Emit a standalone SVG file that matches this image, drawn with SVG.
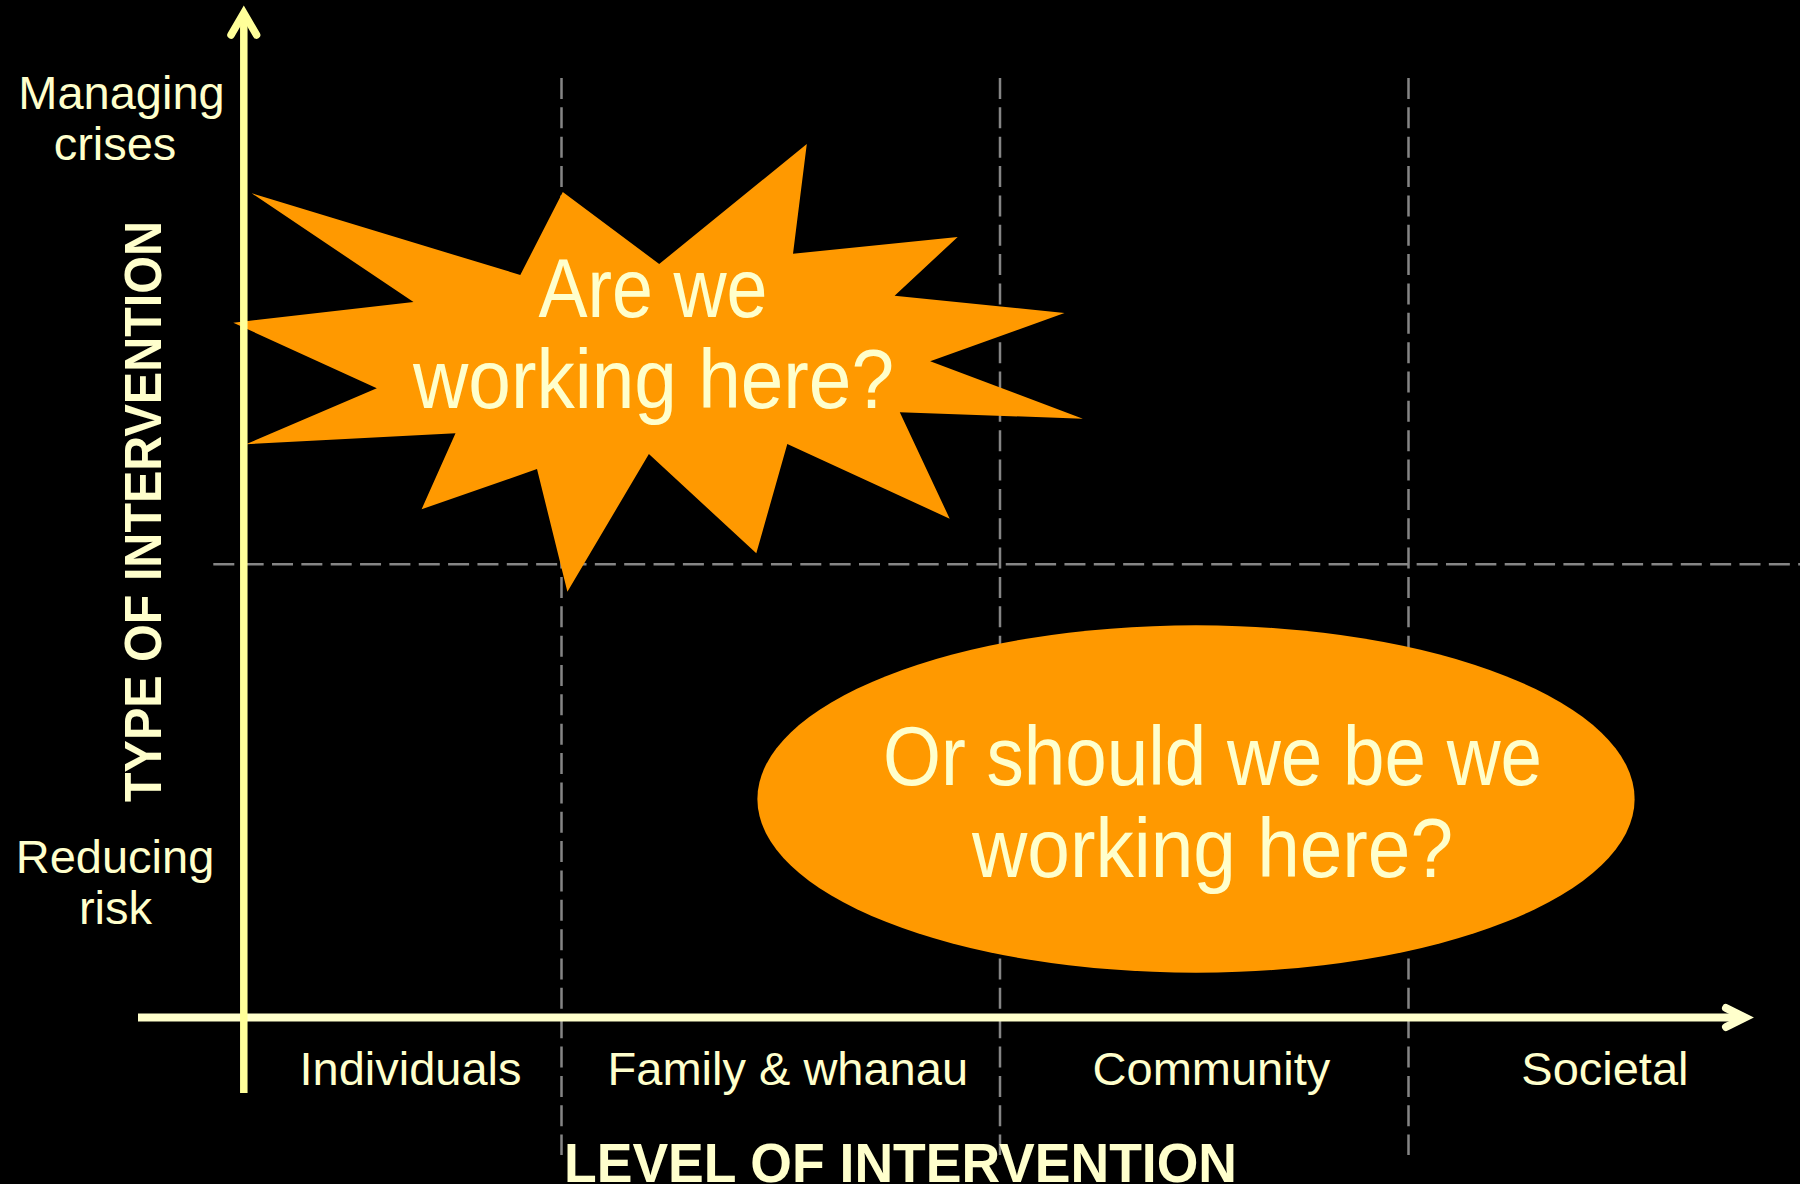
<svg xmlns="http://www.w3.org/2000/svg" width="1800" height="1184" viewBox="0 0 1800 1184">
<style>
.lbl{font-family:"Liberation Sans",Arial,sans-serif;font-size:47px;fill:#FFFFCC}
.big{font-family:"Liberation Sans",Arial,sans-serif;font-size:84px;fill:#FFFFCC}
.ttl{font-family:"Liberation Sans",Arial,sans-serif;font-weight:bold;fill:#FFFFCC}
.grid{stroke:#858585;stroke-width:2.5;stroke-dasharray:21 8.35;fill:none}
.shape{fill:#FF9900}
</style>
<rect x="0" y="0" width="1800" height="1184" fill="#000000"/>
<g id="connectors">
  <line class="grid" x1="561.5" y1="78" x2="561.5" y2="1155"/>
  <line class="grid" x1="1000" y1="78" x2="1000" y2="1155"/>
  <line class="grid" x1="1408.5" y1="78" x2="1408.5" y2="1155"/>
  <line class="grid" x1="213.3" y1="564.3" x2="1800" y2="564.3"/>
</g>
<g id="burst">
  <polygon class="shape" points="251.7,193.3 520.3,275 562.8,192 659.2,264 806.8,144 793,253.7 957.7,237 894.6,295.7 1064.5,313 930.2,361.3 1082.9,418.7 899.8,412.3 949.7,518.7 787.3,444 756.3,553.3 648.9,454 567.4,591.7 537,469 421.6,509.3 455.5,433.3 245.9,444.3 376.8,388.3 233.3,322.7 413.5,302"/>
  <text class="big" x="538.5" y="316.7" textLength="229" lengthAdjust="spacingAndGlyphs">Are we</text>
  <text class="big" x="413" y="408" textLength="481" lengthAdjust="spacingAndGlyphs">working here?</text>
</g>
<g id="ellipse">
  <ellipse class="shape" cx="1196" cy="799" rx="438.6" ry="173.7"/>
  <text class="big" x="883" y="785" textLength="659" lengthAdjust="spacingAndGlyphs">Or should we be we</text>
  <text class="big" x="972" y="876.7" textLength="481" lengthAdjust="spacingAndGlyphs">working here?</text>
</g>
<g id="axes">
  <line x1="138" y1="1017.5" x2="1745" y2="1017.5" stroke="#FFFFCC" stroke-width="8"/>
  <polyline points="1726,1008 1745,1017.5 1726,1027" fill="none" stroke="#FFFFCC" stroke-width="8" stroke-linecap="round" stroke-linejoin="miter"/>
  <line x1="243.8" y1="13" x2="243.8" y2="1093" stroke="#FFFF99" stroke-width="7.5"/>
  <polyline points="231,35 243.8,13 256.6,35" fill="none" stroke="#FFFF99" stroke-width="7.5" stroke-linecap="round" stroke-linejoin="miter"/>
</g>
<g id="y-labels">
  <text class="lbl" x="121.5" y="109" text-anchor="middle">Managing</text>
  <text class="lbl" x="115" y="160" text-anchor="middle">crises</text>
  <text class="lbl" x="115" y="873" text-anchor="middle">Reducing</text>
  <text class="lbl" x="115.5" y="924" text-anchor="middle">risk</text>
  <text class="ttl" font-size="52" transform="translate(160.5,802) rotate(-90)" x="0" y="0" textLength="581" lengthAdjust="spacingAndGlyphs">TYPE OF INTERVENTION</text>
</g>
<g id="x-labels">
  <text class="lbl" x="410.5" y="1084.5" text-anchor="middle">Individuals</text>
  <text class="lbl" x="787.8" y="1084.5" text-anchor="middle">Family &amp; whanau</text>
  <text class="lbl" x="1211.4" y="1084.5" text-anchor="middle">Community</text>
  <text class="lbl" x="1604.9" y="1084.5" text-anchor="middle">Societal</text>
  <text class="ttl" font-size="56" x="564" y="1182" textLength="673" lengthAdjust="spacingAndGlyphs">LEVEL OF INTERVENTION</text>
</g>
</svg>
